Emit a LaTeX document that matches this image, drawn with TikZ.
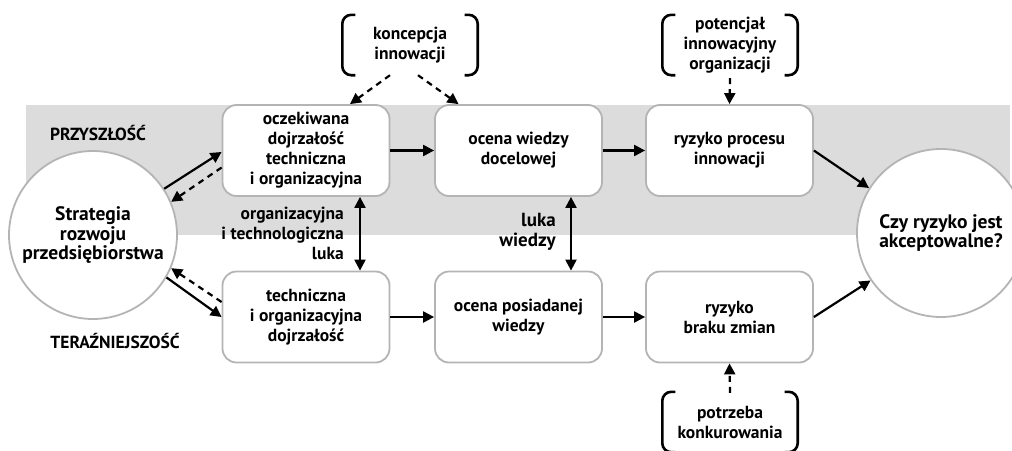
\documentclass[tikz,border=0pt]{standalone}
\usepackage{fontspec}
\setmainfont{PT Sans}
\usetikzlibrary{arrows.meta,calc}
\definecolor{bandgray}{HTML}{DCDCDC}
\definecolor{edgegray}{HTML}{B4B4B4}
\tikzset{
  box/.style={draw=edgegray, line width=1.8pt, fill=white, rounded corners=14pt,
    minimum width=167pt, minimum height=91pt, align=center, inner sep=0pt},
  bigc/.style={circle, draw=edgegray, line width=1.8pt, fill=white,
    minimum size=168pt, align=center, inner sep=0pt, font=\bfseries\fontsize{19.5}{19.5}\selectfont},
  arr/.style={-{Triangle[length=11pt,width=11pt]}, line width=2.2pt},
  darr/.style={arr, dash pattern=on 6pt off 5pt},
  dbl/.style={{Triangle[length=11pt,width=11pt]}-{Triangle[length=11pt,width=11pt]}, line width=2.2pt},
  brk/.style={line width=2.6pt, rounded corners=9pt},
  note/.style={align=center, inner sep=0pt, minimum width=135pt, minimum height=60pt},
  lbl/.style={align=right, inner sep=0pt}
}
\begin{document}
\begin{tikzpicture}[x=1pt,y=-1pt,font=\bfseries\fontsize{17.5}{20}\selectfont]
\useasboundingbox (0,0) rectangle (1012,450);
\clip (0,0) rectangle (1012,450);
\fill[bandgray] (26,105) rectangle (1010,235);

\node[anchor=center] (fut) at (98,133) {PRZYSZŁOŚĆ};
\node[anchor=center] (pres) at (115,341) {TERAŹNIEJSZOŚĆ};

\node[box] (b1) at (306,150.5) {oczekiwana\\dojrzałość\\techniczna\\i organizacyjna};
\node[box] (b2) at (518.5,150.5) {ocena wiedzy\\docelowej};
\node[box] (b3) at (729.5,150.5) {ryzyko procesu\\innowacji};
\node[box] (b4) at (306,317) {techniczna\\i organizacyjna\\dojrzałość};
\node[box] (b5) at (518.5,317) {ocena posiadanej\\wiedzy};
\node[box] (b6) at (729.5,317) {ryzyko\\braku zmian};

\node[bigc] (s) at (93,235) {Strategia\\rozwoju\\przedsiębiorstwa};
\node[bigc] (c) at (941,233) {Czy ryzyko jest\\akceptowalne?};

\node[note] (kon) at (410,45) {koncepcja\\innowacji};
\node[note] (pot) at (730,45) {potencjał\\innowacyjny\\organizacji};
\node[note] (potr) at (730,422) {potrzeba\\konkurowania};

\foreach \n in {kon,pot,potr}{
  \draw[brk] ([xshift=13pt]\n.north west) -- (\n.north west) -- (\n.south west) -- ([xshift=13pt]\n.south west);
  \draw[brk] ([xshift=-13pt]\n.north east) -- (\n.north east) -- (\n.south east) -- ([xshift=-13pt]\n.south east);
}

\node[lbl, anchor=east] (l1) at (344,233) {organizacyjna\\i technologiczna\\luka};
\node[lbl, anchor=east, font=\bfseries\fontsize{19}{20}\selectfont] (l2) at (556,232) {luka\\wiedzy};

% horizontal flow
\draw[arr] (b1) -- (b2);
\draw[arr] (b2) -- (b3);
\draw[arr] (b4) -- (b5);
\draw[arr] (b5) -- (b6);
\draw[arr] (b3.east) -- (c.148);
\draw[arr] (b6.east) -- (c.214);

% strategy links
\draw[arr] (s.33) -- ($(b1.west)+(0,1.5)$);
\draw[darr] ($(b1.west)+(0,17)$) -- (s.23.5);
\draw[arr] (s.-30.5) -- (b4.west);
\draw[darr] ($(b4.west)+(0,-15)$) -- (s.-23);

% gaps
\draw[dbl] ([xshift=54pt]b1.south) -- ([xshift=54pt]b4.north);
\draw[dbl] ([xshift=52.5pt]b2.south) -- ([xshift=52.5pt]b5.north);

% notes
\draw[darr] ([xshift=-20pt]kon.south) -- ([xshift=44pt]b1.north);
\draw[darr] ([xshift=8pt]kon.south) -- ([xshift=-60pt]b2.north);
\draw[darr] ([yshift=-3pt]pot.south) -- (b3.north);
\draw[darr] ([yshift=-1pt]potr.north) -- (b6.south);
\end{tikzpicture}
\end{document}
